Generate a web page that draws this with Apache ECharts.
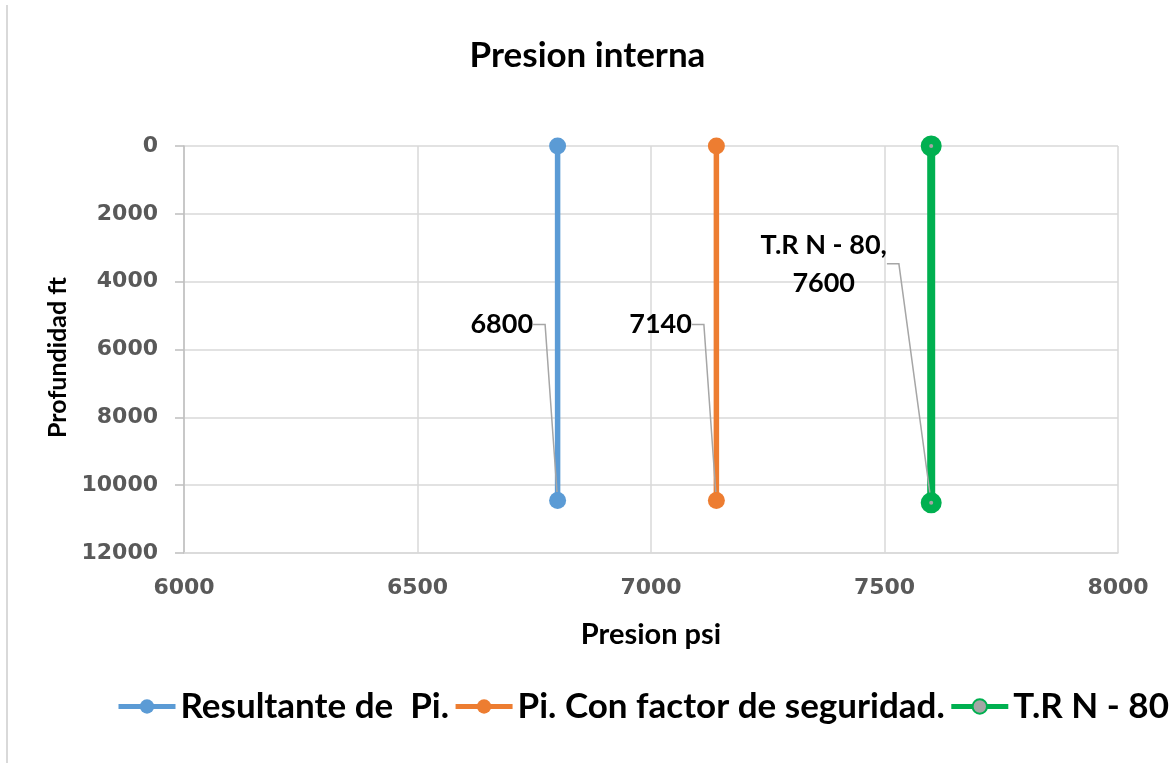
<!DOCTYPE html>
<html lang="es">
<head>
    <meta charset="utf-8" />
    <title>Presion interna</title>
    <script type="text/javascript" src="https://cdn.jsdelivr.net/npm/echarts@6/dist/echarts.min.js"></script>
    <style type="text/css">
        body { margin: 0; background: #fff; }
        #frame { position: absolute; left: 6px; top: 5px; width: 2px; height: 758px; background: #d9d9d9; }
    </style>
</head>
<body>
    <div id="frame"></div>
    <div id="main" style="width:1175px;height:763px;"></div>

    <script type="text/javascript">
        // valores
        var seriesNames = ['Resultante de  Pi.', 'Pi. Con factor de seguridad.', 'T.R N - 80'];
        var presion_pi = [6800, 6800];
        var prof_pi = [0, 10450];
        var presion_fs = [7140, 7140];
        var prof_fs = [0, 10450];
        var presion_trn = [7600, 7600];
        var prof_trn = [0, 10520];
        var xTicks = [6000, 6500, 7000, 7500, 8000];
        var yTicks = [0, 2000, 4000, 6000, 8000, 10000, 12000];

        var colors = ['#5b9bd5', '#ed7d31', '#00b050'];
        var myChart = echarts.init(document.getElementById('main'));

        function toPairs(xs, ys) {
            var out = [];
            for (var i = 0; i < xs.length; i++) out.push([xs[i], ys[i]]);
            return out;
        }

        var lblFont = { fontFamily: 'Lato', fontWeight: 'bold', fontSize: 27, color: '#000' };

        // etiqueta en el ultimo punto, desplazada hacia arriba con linea guia
        function makeSeries(idx, xs, ys, labelText, align, move) {
            var pairs = toPairs(xs, ys);
            var data = pairs.map(function (p, i) {
                if (i !== pairs.length - 1) return p;
                return {
                    value: p,
                    label: Object.assign({
                        show: true,
                        position: 'left',
                        distance: 5,
                        align: align,
                        lineHeight: 38,
                        padding: [0, 0, 0, 150],
                        formatter: labelText
                    }, lblFont)
                };
            });
            return {
                name: seriesNames[idx],
                type: 'line',
                data: data,
                symbol: 'circle',
                symbolSize: 17,
                lineStyle: { color: colors[idx], width: 5.5 },
                itemStyle: { color: colors[idx] },
                labelLine: { show: true, length2: 12, lineStyle: { color: '#a6a6a6', width: 1.5 } },
                labelLayout: function (params) {
                    if (params.dataIndex === pairs.length - 1) return { dx: move[0], dy: move[1] };
                    return {};
                },
                z: 2 + idx
            };
        }

        var s1 = makeSeries(0, presion_pi, prof_pi, String(presion_pi[1]), 'right', [-11, -176]);
        var s2 = makeSeries(1, presion_fs, prof_fs, String(presion_fs[1]), 'right', [-11, -176]);
        var s3 = makeSeries(2, presion_trn, prof_trn, seriesNames[2] + ',\n' + presion_trn[1], 'center', [-167, -239]);
        s3.symbolSize = 12.5;
        s3.lineStyle.width = 8;
        s3.itemStyle = { color: '#a5a5a5', borderColor: colors[2], borderWidth: 8.5 };

        var tickFont = { fontFamily: 'DejaVu Sans', fontWeight: 'bold', fontSize: 22, color: '#595959' };

        var option = {
            animation: false,
            title: {
                text: 'Presion interna',
                left: 'center',
                top: 33,
                textStyle: { fontFamily: 'Lato', fontWeight: 'bold', fontSize: 35, color: '#000' }
            },
            legend: {
                data: seriesNames,
                left: 116,
                top: 689,
                width: 1058,
                padding: 0,
                itemWidth: 57,
                itemHeight: 18,
                itemGap: 4,
                lineStyle: { width: 5 },
                textStyle: { fontFamily: 'Lato', fontWeight: 'bold', fontSize: 35, color: '#000' }
            },
            grid: { left: 184, right: 57, top: 146, bottom: 210, containLabel: false },
            xAxis: {
                type: 'value',
                min: xTicks[0],
                max: xTicks[xTicks.length - 1],
                interval: xTicks[1] - xTicks[0],
                name: 'Presion psi',
                nameLocation: 'middle',
                nameGap: 67,
                nameTextStyle: { fontFamily: 'Lato', fontWeight: 'bold', fontSize: 29, color: '#000' },
                axisLine: { show: true, onZero: false, lineStyle: { color: '#d9d9d9', width: 1.5 } },
                axisTick: { show: false },
                axisLabel: Object.assign({ margin: 24, formatter: function (v) { return String(v); } }, tickFont),
                splitLine: { show: true, lineStyle: { color: '#d9d9d9', width: 1.5 } }
            },
            yAxis: {
                type: 'value',
                inverse: true,
                min: yTicks[0],
                max: yTicks[yTicks.length - 1],
                interval: yTicks[1] - yTicks[0],
                name: 'Profundidad ft',
                nameLocation: 'middle',
                nameGap: 95,
                nameTextStyle: { fontFamily: 'Lato', fontWeight: 'bold', fontSize: 25, color: '#000', padding: [0, 16, 0, 0] },
                axisLine: { show: true, onZero: false, lineStyle: { color: '#bfbfbf', width: 1.5 } },
                axisTick: { show: true, inside: false, length: 9, lineStyle: { color: '#bfbfbf', width: 1.5 } },
                axisLabel: Object.assign({ margin: 26, formatter: function (v) { return String(v); } }, tickFont),
                splitLine: { show: true, lineStyle: { color: '#d9d9d9', width: 1.5 } }
            },
            series: [s1, s2, s3]
        };
        myChart.setOption(option, true);
    </script>
</body>
</html>
